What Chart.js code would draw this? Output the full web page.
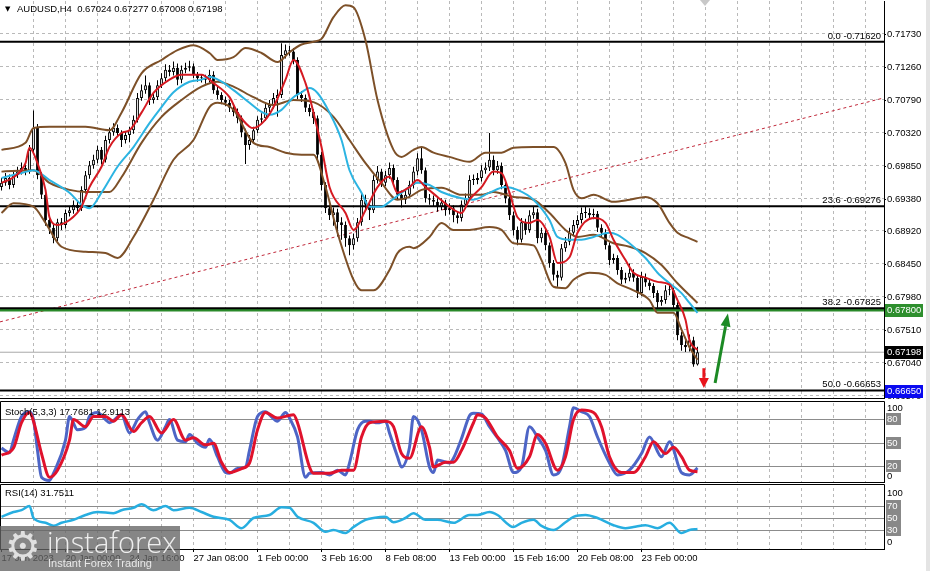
<!DOCTYPE html>
<html><head><meta charset="utf-8">
<script src="https://cdn.jsdelivr.net/npm/chart.js@4.4.0/dist/chart.umd.min.js"></script>
<style>
html,body{margin:0;padding:0;background:#fff;width:930px;height:571px;overflow:hidden;}
#wrap{position:relative;width:930px;height:571px;background:#fff;}
.pane{position:absolute;left:0;}
#wm{position:absolute;left:0;top:526px;width:180px;height:45px;background:rgba(100,100,100,0.78);overflow:hidden;}
#wm .g{position:absolute;left:5px;top:-3px;font:40px 'DejaVu Sans';color:#e0e0e0;}
#wm .t{position:absolute;left:47px;top:-4px;font:300 29px 'Open Sans';color:#eeeeee;}
#wm .s{position:absolute;left:48px;top:31px;font:11px 'Liberation Sans';color:#e8e8e8;}
#edge{position:absolute;left:926px;top:0;width:4px;height:571px;background:#e4e4e4;}
</style></head><body>
<div id="wrap">
<canvas class="pane" id="cMain" width="930" height="400" style="top:0"></canvas>
<canvas class="pane" id="cSto" width="930" height="84" style="top:400px"></canvas>
<canvas class="pane" id="cRsi" width="930" height="88" style="top:483px"></canvas>
<div id="wm"><span class="g">⚙</span><span class="t">instaforex</span><span class="s">Instant Forex Trading</span></div>
<div id="edge"></div>
</div>
<script>
// ---------------- DATA ----------------
const O = [0.6955,0.6961,0.6968,0.6958,0.6972,0.6977,0.6982,0.6977,0.7008,0.7039,0.6972,0.6944,0.6908,0.6897,0.6882,0.6905,0.6901,0.6918,0.6922,0.6930,
0.6925,0.6951,0.6972,0.6986,0.6994,0.7008,0.6994,0.7022,0.7033,0.7039,0.7032,0.7022,0.7029,0.7036,0.7051,0.7082,0.7093,0.7100,0.7079,0.7083,
0.7100,0.7110,0.7122,0.7119,0.7125,0.7108,0.7122,0.7125,0.7127,0.7115,0.7110,0.7110,0.7108,0.7115,0.7093,0.7086,0.7079,0.7075,0.7068,0.7062,
0.7053,0.7033,0.7015,0.7022,0.7036,0.7051,0.7053,0.7068,0.7072,0.7082,0.7086,0.7143,0.7150,0.7148,0.7136,0.7086,0.7082,0.7068,0.7062,0.7053,
0.7001,0.6958,0.6925,0.6915,0.6919,0.6905,0.6901,0.6882,0.6872,0.6882,0.6905,0.6937,0.6930,0.6922,0.6965,0.6977,0.6961,0.6972,0.6982,0.6965,
0.6944,0.6937,0.6944,0.6958,0.6977,0.6996,0.6979,0.6939,0.6937,0.6934,0.6927,0.6933,0.6922,0.6925,0.6915,0.6911,0.6930,0.6939,0.6965,0.6965,
0.6968,0.6979,0.6983,0.6994,0.6979,0.6985,0.6958,0.6939,0.6915,0.6894,0.6880,0.6905,0.6894,0.6915,0.6919,0.6882,0.6890,0.6872,0.6847,0.6830,
0.6826,0.6868,0.6877,0.6890,0.6901,0.6908,0.6918,0.6918,0.6915,0.6917,0.6897,0.6890,0.6872,0.6851,0.6854,0.6837,0.6823,0.6826,0.6833,0.6826,
0.6804,0.6827,0.6819,0.6814,0.6804,0.6791,0.6794,0.6808,0.6808,0.6787,0.6744,0.6730,0.6727,0.6737,0.67024];
const H = [0.6968,0.6975,0.6973,0.6978,0.6984,0.6990,0.6987,0.7015,0.7064,0.7045,0.6976,0.6948,0.6914,0.6902,0.6910,0.6911,0.6923,0.6928,0.6936,0.6935,
0.6956,0.6978,0.6992,0.7001,0.7014,0.7012,0.7028,0.7040,0.7046,0.7044,0.7036,0.7034,0.7041,0.7057,0.7089,0.7101,0.7114,0.7104,0.7090,0.7107,
0.7117,0.7130,0.7129,0.7134,0.7131,0.7128,0.7132,0.7135,0.7131,0.7119,0.7116,0.7115,0.7122,0.7120,0.7098,0.7090,0.7084,0.7079,0.7072,0.7067,
0.7057,0.7038,0.7029,0.7041,0.7056,0.7060,0.7074,0.7079,0.7089,0.7094,0.7160,0.7158,0.7156,0.7153,0.7140,0.7092,0.7087,0.7073,0.7066,0.7057,
0.7005,0.6962,0.6930,0.6926,0.6924,0.6912,0.6906,0.6886,0.6889,0.6911,0.6948,0.6944,0.6935,0.6972,0.6985,0.6981,0.6978,0.6990,0.6987,0.6969,
0.6950,0.6950,0.6964,0.6984,0.7003,0.7012,0.6983,0.6945,0.6943,0.6939,0.6939,0.6937,0.6932,0.6929,0.6920,0.6936,0.6946,0.6972,0.6973,0.6975,
0.6986,0.6990,0.7032,0.7000,0.6992,0.6990,0.6963,0.6943,0.6920,0.6899,0.6911,0.6910,0.6922,0.6928,0.6924,0.6897,0.6895,0.6876,0.6851,0.6836,
0.6874,0.6884,0.6897,0.6908,0.6915,0.6926,0.6927,0.6925,0.6924,0.6921,0.6902,0.6895,0.6876,0.6860,0.6858,0.6841,0.6833,0.6846,0.6838,0.6830,
0.6834,0.6832,0.6823,0.6818,0.6808,0.6800,0.6815,0.6816,0.6812,0.6791,0.6749,0.6737,0.6745,0.6742,0.67277];
const L = [0.6950,0.6957,0.6952,0.6954,0.6968,0.6973,0.6972,0.6974,0.7004,0.6966,0.6938,0.6900,0.6888,0.6875,0.6878,0.6894,0.6896,0.6913,0.6917,0.6919,
0.6921,0.6946,0.6967,0.6981,0.6989,0.6987,0.6990,0.7017,0.7028,0.7027,0.7012,0.7017,0.7019,0.7031,0.7047,0.7078,0.7088,0.7072,0.7074,0.7079,
0.7096,0.7106,0.7113,0.7114,0.7100,0.7103,0.7117,0.7120,0.7110,0.7105,0.7104,0.7102,0.7104,0.7088,0.7080,0.7073,0.7070,0.7062,0.7056,0.7046,
0.7026,0.6988,0.7008,0.7018,0.7032,0.7046,0.7049,0.7062,0.7067,0.7055,0.7082,0.7138,0.7142,0.7130,0.7080,0.7076,0.7062,0.7056,0.7045,0.6994,
0.6950,0.6918,0.6908,0.6900,0.6885,0.6880,0.6870,0.6858,0.6866,0.6877,0.6900,0.6922,0.6908,0.6918,0.6960,0.6955,0.6956,0.6967,0.6960,0.6937,
0.6926,0.6931,0.6940,0.6953,0.6972,0.6974,0.6933,0.6930,0.6928,0.6920,0.6922,0.6914,0.6916,0.6905,0.6903,0.6906,0.6925,0.6935,0.6958,0.6959,
0.6963,0.6974,0.6978,0.6972,0.6974,0.6952,0.6932,0.6908,0.6886,0.6872,0.6876,0.6887,0.6890,0.6910,0.6875,0.6876,0.6865,0.6840,0.6822,0.6813,
0.6822,0.6863,0.6872,0.6885,0.6896,0.6903,0.6911,0.6909,0.6909,0.6891,0.6884,0.6866,0.6844,0.6846,0.6830,0.6817,0.6818,0.6821,0.6820,0.6797,
0.6800,0.6813,0.6808,0.6797,0.6783,0.6786,0.6789,0.6801,0.6780,0.6737,0.6722,0.6720,0.6721,0.6699,0.67008];
const C = [0.6961,0.6968,0.6958,0.6972,0.6977,0.6982,0.6977,0.7008,0.7039,0.6972,0.6944,0.6908,0.6897,0.6882,0.6905,0.6901,0.6918,0.6922,0.6930,0.6925,
0.6951,0.6972,0.6986,0.6994,0.7008,0.6994,0.7022,0.7033,0.7039,0.7032,0.7022,0.7029,0.7036,0.7051,0.7082,0.7093,0.7100,0.7079,0.7083,0.7100,
0.7110,0.7122,0.7119,0.7125,0.7108,0.7122,0.7125,0.7127,0.7115,0.7110,0.7110,0.7108,0.7115,0.7093,0.7086,0.7079,0.7075,0.7068,0.7062,0.7053,
0.7033,0.7015,0.7022,0.7036,0.7051,0.7053,0.7068,0.7072,0.7082,0.7086,0.7143,0.7150,0.7148,0.7136,0.7086,0.7082,0.7068,0.7062,0.7053,0.7001,
0.6958,0.6925,0.6915,0.6919,0.6905,0.6901,0.6882,0.6872,0.6882,0.6905,0.6937,0.6930,0.6922,0.6965,0.6977,0.6961,0.6972,0.6982,0.6965,0.6944,
0.6937,0.6944,0.6958,0.6977,0.6996,0.6979,0.6939,0.6937,0.6934,0.6927,0.6933,0.6922,0.6925,0.6915,0.6911,0.6930,0.6939,0.6965,0.6965,0.6968,
0.6979,0.6983,0.6994,0.6979,0.6985,0.6958,0.6939,0.6915,0.6894,0.6880,0.6905,0.6894,0.6915,0.6919,0.6882,0.6890,0.6872,0.6847,0.6830,0.6826,
0.6868,0.6877,0.6890,0.6901,0.6908,0.6918,0.6918,0.6915,0.6917,0.6897,0.6890,0.6872,0.6851,0.6854,0.6837,0.6823,0.6826,0.6833,0.6826,0.6804,
0.6827,0.6819,0.6814,0.6804,0.6791,0.6794,0.6808,0.6808,0.6787,0.6744,0.6730,0.6727,0.6737,0.67024,0.67198];

// Bollinger Bands (bar index, price)
const bbUpper = [[0,0.7008],[6,0.7018],[8,0.7039],[12,0.7041],[21,0.7041],[27,0.7036],[30,0.7061],[35,0.7117],[40,0.7136],[44,0.7150],[48,0.7157],[52,0.7146],[54,0.7136],[58,0.7140],[61,0.7153],[65,0.7146],[69,0.7133],[72,0.7147],[75,0.7158],[78,0.7162],[80,0.7166],[83,0.7197],[86,0.7214],[88,0.7211],[91,0.7164],[94,0.7079],[98,0.7008],[100,0.6998],[103,0.7008],[105,0.7012],[108,0.7004],[112,0.6998],[117,0.6991],[121,0.7004],[125,0.7004],[128,0.7011],[133,0.7012],[138,0.7012],[141,0.6989],[143,0.6951],[145,0.6939],[148,0.6944],[153,0.6934],[157,0.6937],[161,0.6941],[164,0.6932],[167,0.6904],[169,0.6890],[172,0.6882],[174,0.6877]];
const bbMiddle = [[0,0.6977],[8,0.6979],[12,0.6961],[17,0.6951],[21,0.6948],[27,0.6948],[30,0.6969],[35,0.7018],[40,0.7055],[45,0.7079],[50,0.7098],[54,0.7105],[58,0.7098],[63,0.7083],[68,0.7072],[73,0.7079],[78,0.7076],[83,0.7055],[87,0.7022],[91,0.6989],[95,0.6961],[99,0.6937],[102,0.6941],[105,0.6951],[110,0.6954],[115,0.6944],[120,0.6944],[123,0.6948],[128,0.6941],[133,0.6937],[137,0.6918],[141,0.6894],[144,0.6884],[148,0.6887],[153,0.6875],[157,0.6870],[161,0.6861],[165,0.6844],[169,0.6818],[174,0.6790]];
const bbLower = [[0,0.6918],[3,0.6932],[8,0.6927],[11,0.6904],[15,0.6870],[21,0.6863],[26,0.6861],[29,0.6854],[33,0.6884],[38,0.6937],[43,0.6994],[48,0.7022],[52,0.7069],[54,0.7075],[58,0.7065],[63,0.7018],[67,0.7012],[71,0.7004],[75,0.7001],[78,0.7001],[81,0.6955],[84,0.6890],[88,0.6823],[90,0.6808],[93,0.6808],[97,0.6837],[99,0.6861],[102,0.6870],[103,0.6868],[107,0.6884],[110,0.6904],[113,0.6894],[117,0.6894],[122,0.6898],[125,0.6894],[128,0.6875],[133,0.6872],[135,0.6851],[138,0.6813],[141,0.6811],[143,0.6823],[147,0.6833],[151,0.6830],[154,0.6818],[158,0.6808],[162,0.6794],[164,0.6776],[168,0.6776],[170,0.6752],[172,0.6727],[174,0.6709]];
// moving averages
const maSlow = [[0,0.6968],[5,0.6975],[8,0.6979],[12,0.6965],[17,0.6947],[20,0.6930],[22,0.6925],[25,0.6947],[29,0.6984],[33,0.7012],[37,0.7046],[40,0.7069],[43,0.7090],[47,0.7105],[50,0.7108],[52,0.7112],[55,0.7105],[58,0.7093],[62,0.7075],[65,0.7062],[67,0.7058],[70,0.7065],[73,0.7083],[75,0.7090],[77,0.7096],[79,0.7089],[82,0.7061],[85,0.7022],[87,0.6979],[90,0.6947],[92,0.6927],[95,0.6927],[97,0.6934],[101,0.6951],[104,0.6961],[107,0.6958],[110,0.6948],[115,0.6939],[118,0.6937],[122,0.6947],[126,0.6955],[129,0.6951],[133,0.6937],[137,0.6908],[139,0.6884],[142,0.6880],[145,0.6880],[148,0.6884],[152,0.6890],[154,0.6887],[157,0.6875],[161,0.6854],[164,0.6833],[167,0.6818],[170,0.6804],[172,0.6790],[174,0.6776]];
const maFast = [[0,0.6961],[3,0.6969],[6,0.6989],[7,0.7011],[9,0.6989],[11,0.6951],[12,0.6912],[14,0.6901],[17,0.6908],[20,0.6927],[22,0.6955],[25,0.6984],[27,0.7012],[30,0.7032],[32,0.7036],[35,0.7061],[38,0.7089],[42,0.7108],[45,0.7115],[50,0.7115],[53,0.7103],[57,0.7083],[59,0.7061],[62,0.7041],[63,0.7039],[66,0.7051],[68,0.7069],[71,0.7108],[73,0.7136],[76,0.7103],[78,0.7061],[80,0.7012],[82,0.6955],[86,0.6918],[88,0.6894],[91,0.6922],[94,0.6955],[97,0.6970],[99,0.6947],[102,0.6955],[104,0.6965],[106,0.6955],[109,0.6941],[112,0.6927],[115,0.6918],[117,0.6937],[120,0.6955],[123,0.6977],[125,0.6975],[127,0.6947],[129,0.6912],[132,0.6904],[134,0.6908],[137,0.6884],[139,0.6847],[142,0.6855],[144,0.6890],[148,0.6911],[151,0.6904],[153,0.6880],[156,0.6851],[158,0.6833],[161,0.6826],[164,0.6820],[167,0.6816],[169,0.6794],[171,0.6766],[172,0.6737],[174,0.6723]];
// drawn objects
const trendLine = [[-0.375,0.6763],[220.625,0.7082]];
const fibLevels = [0.71620,0.69276,0.67825,0.66653];
const fibNames = ['0.0','23.6','38.2','50.0'];
const greenLevel = 0.67800;
const bidPrice = 0.67198;
const tagValues = [0.67800,0.67198,0.66650];
const arrowsDown = [[175.6,0.6697,175.6,0.6669]];
const arrowsUp = [[178.4,0.6676,181.6,0.6775]];
// stochastic (5,3,3)
const stochK = [[0,43],[2,37],[3,53],[5,83],[7,89],[8,79],[9,40],[10,6],[12,2],[13,11],[16,53],[17,83],[19,66],[21,69],[22,83],[24,88],[26,79],[27,75],[30,85],[32,62],[34,79],[36,89],[37,75],[39,53],[41,70],[42,79],[44,53],[46,51],[47,60],[49,49],[51,44],[52,54],[54,32],[56,12],[57,11],[59,17],[61,19],[62,40],[64,83],[66,89],[67,85],[69,77],[71,88],[72,81],[74,57],[76,6],[77,11],[80,12],[82,9],[84,15],[86,9],[87,24],[89,66],[91,77],[92,77],[94,75],[96,77],[97,62],[99,32],[100,19],[102,44],[103,83],[105,66],[107,19],[108,12],[109,28],[112,24],[113,30],[115,55],[117,84],[118,87],[120,86],[122,70],[124,56],[126,40],[128,12],[130,19],[132,70],[134,57],[136,40],[138,9],[140,19],[142,70],[143,94],[145,89],[147,83],[149,57],[152,24],[154,9],[157,15],[160,36],[162,57],[165,32],[167,51],[170,12],[172,9],[174,17.7681]];
const stochD = [[0,34],[3,43],[5,75],[7,88],[8,77],[10,36],[12,6],[14,15],[17,53],[18,79],[21,70],[23,83],[26,83],[28,77],[30,85],[33,64],[35,75],[37,83],[40,62],[43,79],[46,53],[48,56],[51,47],[53,49],[55,25],[57,12],[60,17],[62,24],[64,66],[66,88],[69,81],[73,85],[74,75],[77,19],[78,11],[82,11],[85,15],[88,15],[90,57],[92,75],[96,77],[98,70],[100,36],[102,30],[105,70],[107,44],[108,19],[111,25],[113,25],[115,40],[118,75],[119,85],[121,81],[124,57],[127,40],[129,17],[132,32],[134,60],[136,49],[139,15],[141,32],[143,79],[145,91],[148,88],[150,70],[152,32],[155,12],[158,12],[161,32],[163,51],[166,36],[168,44],[170,32],[172,15],[174,12.9113]];
// RSI(14)
const rsi = [[0,52],[3,60],[5,63],[7,70],[8,50],[11,42],[13,37],[15,42],[18,47],[21,55],[24,60],[28,58],[30,63],[33,67],[35,73],[38,63],[41,70],[43,63],[47,67],[50,60],[53,52],[57,47],[60,33],[63,50],[67,55],[70,68],[72,67],[74,52],[78,42],[81,27],[83,30],[86,25],[88,35],[91,47],[93,50],[96,52],[98,43],[101,50],[103,58],[106,47],[109,47],[113,42],[117,55],[119,55],[122,60],[124,55],[128,35],[130,42],[133,47],[135,37],[138,30],[141,43],[143,52],[146,55],[149,50],[153,38],[156,33],[158,35],[161,38],[164,33],[167,42],[170,25],[172,30],[174,31.7511]];
// axes
const priceTicks = [0.71730,0.71260,0.70790,0.70320,0.69850,0.69380,0.68920,0.68450,0.67980,0.67510,0.67040,0.66570];
const timeTickBars = [0,16,32,48,64,80,96,112,128,144,160];
const timeTickLabels = ['17 Jan 2023','20 Jan 00:00','24 Jan 16:00','27 Jan 08:00','1 Feb 00:00','3 Feb 16:00','8 Feb 08:00','13 Feb 00:00','15 Feb 16:00','20 Feb 08:00','23 Feb 00:00'];
const stochLevels = [80,50,20];
const rsiLevels = [70,50,30];
const headerText = 'AUDUSD,H4  0.67024 0.67277 0.67008 0.67198';
const stochTitle = 'Stoch(5,3,3) 17.7681 12.9113';
const rsiTitle = 'RSI(14) 31.7511';

// ---------------- STYLE / LAYOUT ----------------
const FONT = "'Liberation Sans', Arial, sans-serif";
const FS = 9.5;
const X_MIN = -0.375, X_MAX = 220.625;
const GRID = '#b9b9b9';
const BROWN = '#7d5028', RED = '#d51a22', CYAN = '#2cb4e2';
const xScale = {type:'linear', min:X_MIN, max:X_MAX, display:false, offset:false, grid:{offset:false}};
const pts = a => a.map(p => ({x:p[0], y:p[1]}));
const lineDs = (arr, color, w, order, extra) => Object.assign({type:'line', data:pts(arr), borderColor:color, borderWidth:w, pointRadius:0, fill:false, order, cubicInterpolationMode:'monotone'}, extra||{});

function vGrid(chart){
  const {ctx, chartArea:a, scales:{x}} = chart;
  ctx.save(); ctx.strokeStyle = GRID; ctx.lineWidth = 1; ctx.setLineDash([3,3]);
  ctx.beginPath();
  for (let b = 0; b <= X_MAX; b += 8){ const px = Math.floor(x.getPixelForValue(b)) + 0.5; if (px < 2) continue; ctx.moveTo(px, a.top); ctx.lineTo(px, a.bottom); }
  ctx.stroke(); ctx.restore();
}
function arrow(ctx,x1,y1,x2,y2,color,w,hl,hw){
  const ang = Math.atan2(y2-y1,x2-x1), c = Math.cos(ang), s = Math.sin(ang);
  const bx = x2 - hl*c, by = y2 - hl*s;
  ctx.save(); ctx.strokeStyle = color; ctx.fillStyle = color; ctx.lineWidth = w; ctx.lineCap = 'butt';
  ctx.beginPath(); ctx.moveTo(x1,y1); ctx.lineTo(bx,by); ctx.stroke();
  ctx.beginPath(); ctx.moveTo(x2,y2); ctx.lineTo(bx + hw/2*s, by - hw/2*c); ctx.lineTo(bx - hw/2*s, by + hw/2*c); ctx.closePath(); ctx.fill();
  ctx.restore();
}

// ---------------- MAIN ----------------
const bars = C.map((_, i) => i);
const mainPlugin = {
  id:'mainDeco',
  beforeDatasetsDraw(chart){
    const {ctx, chartArea:a, scales:{y}} = chart;
    ctx.save(); ctx.strokeStyle = GRID; ctx.lineWidth = 1; ctx.setLineDash([3,3]); ctx.beginPath();
    for (const v of priceTicks){ const py = Math.round(y.getPixelForValue(v)) - 0.5; if (py < a.top || py > a.bottom) continue; ctx.moveTo(a.left, py); ctx.lineTo(a.right, py); }
    ctx.stroke(); ctx.restore();
    vGrid(chart);
  },
  afterDraw(chart){
    const {ctx, chartArea:a, scales:{x,y}} = chart;
    ctx.save();
    ctx.strokeStyle = '#000'; ctx.lineWidth = 1; ctx.beginPath(); ctx.moveTo(0, a.bottom + 0.5); ctx.lineTo(a.right + 1, a.bottom + 0.5); ctx.stroke();
    ctx.fillStyle = '#000'; ctx.textBaseline = 'middle'; ctx.textAlign = 'left';
    ctx.font = `7px 'DejaVu Sans'`; ctx.fillText('▼', 5, 9);
    ctx.font = `${FS}px ${FONT}`; ctx.fillText(headerText, 17, 9);
    ctx.textAlign = 'right'; ctx.textBaseline = 'alphabetic';
    fibLevels.forEach((v, i) => { ctx.fillText(fibNames[i] + ' -' + v.toFixed(5), a.right - 3, y.getPixelForValue(v) - 3); });
    const tagBg = ['#2e8f2e', '#000000', '#0a0af0'];
    ctx.textAlign = 'left'; ctx.textBaseline = 'middle';
    tagValues.forEach((v, i) => {
      const py = Math.round(y.getPixelForValue(v));
      ctx.fillStyle = tagBg[i]; ctx.fillRect(a.right + 1, py - 6, 38, 13);
      ctx.fillStyle = '#fff'; ctx.fillText(v.toFixed(5), a.right + 3, py + 0.5);
    });
    arrowsDown.forEach(r => arrow(ctx, x.getPixelForValue(r[0]), y.getPixelForValue(r[1]), x.getPixelForValue(r[2]), y.getPixelForValue(r[3]), '#e8141c', 3, 10, 10));
    arrowsUp.forEach(r => arrow(ctx, x.getPixelForValue(r[0]), y.getPixelForValue(r[1]), x.getPixelForValue(r[2]), y.getPixelForValue(r[3]), '#1c8a24', 3, 13, 10));
    ctx.fillStyle = '#c8c8c8'; ctx.beginPath(); ctx.moveTo(700, 0); ctx.lineTo(710, 0); ctx.lineTo(705, 6); ctx.closePath(); ctx.fill();
    ctx.restore();
  }
};
const mainDatasets = [
  lineDs(maFast, RED, 2, 1),
  lineDs(maSlow, CYAN, 2, 2),
  lineDs(bbUpper, BROWN, 2, 3),
  lineDs(bbMiddle, BROWN, 2, 3),
  lineDs(bbLower, BROWN, 2, 3),
  {type:'bar', data:bars.map(i => ({x:i, y:[O[i], C[i]]})), backgroundColor:bars.map(i => C[i] >= O[i] ? '#ffffff' : '#000000'), borderColor:'#000', borderWidth:1, borderSkipped:false, grouped:false, maxBarThickness:3, minBarLength:1, order:5},
  {type:'bar', data:bars.map(i => ({x:i, y:[L[i], H[i]]})), backgroundColor:'#000', borderWidth:0, grouped:false, maxBarThickness:1, order:6},
  ...fibLevels.map(v => lineDs([[X_MIN, v],[X_MAX, v]], '#000', 2, 4, {cubicInterpolationMode:'default', tension:0})),
  lineDs([[X_MIN, greenLevel],[X_MAX, greenLevel]], '#2a8a2a', 3, 4, {tension:0, cubicInterpolationMode:'default'}),
  lineDs([[X_MIN, bidPrice],[X_MAX, bidPrice]], '#a8a8a8', 1, 8, {tension:0, cubicInterpolationMode:'default'}),
  lineDs(trendLine, '#c0283a', 1, 9, {borderDash:[3,3], tension:0, cubicInterpolationMode:'default'})
];
new Chart(document.getElementById('cMain'), {
  type:'bar',
  data:{datasets:mainDatasets},
  options:{
    responsive:false, animation:false, events:[],
    layout:{padding:{top:1, bottom:2, left:0, right:0}},
    plugins:{legend:{display:false}, tooltip:{enabled:false}},
    scales:{
      x:xScale,
      y:{position:'right', min:0.66546, max:0.72200,
         afterFit(s){ s.width = 46; s.paddingTop = 0; s.paddingBottom = 0; },
         afterBuildTicks(s){ s.ticks = priceTicks.map(v => ({value:v})); },
         ticks:{callback:v => Number(v).toFixed(5), font:{size:FS, family:FONT}, color:'#000', padding:1, autoSkip:false},
         grid:{drawOnChartArea:false, drawTicks:true, tickLength:2, color:'#000'},
         border:{display:true, color:'#000', width:1}}
    }
  },
  plugins:[mainPlugin]
});

// ---------------- SUB WINDOWS ----------------
function subPlugin(title, levels, lay){
  return {
    id:'sub' + title.length,
    beforeDatasetsDraw(chart){
      const {ctx, chartArea:a, scales:{y}} = chart;
      vGrid(chart);
      ctx.save(); ctx.strokeStyle = '#8c8c8c'; ctx.lineWidth = 1; ctx.beginPath();
      levels.forEach(v => { const py = Math.round(y.getPixelForValue(v)) + 0.5; ctx.moveTo(a.left, py); ctx.lineTo(a.right, py); });
      ctx.stroke(); ctx.restore();
    },
    afterDraw(chart){
      const {ctx, chartArea:a, scales:{y}} = chart;
      ctx.save();
      ctx.strokeStyle = '#000'; ctx.lineWidth = 1;
      ctx.beginPath();
      ctx.moveTo(0.5, lay.frameTop); ctx.lineTo(a.right + 0.5, lay.frameTop);
      ctx.moveTo(a.right + 0.5, lay.frameTop); ctx.lineTo(a.right + 0.5, lay.frameBottom);
      ctx.moveTo(0.5, lay.frameTop); ctx.lineTo(0.5, lay.frameBottom);
      ctx.moveTo(0, lay.frameBottom); ctx.lineTo(a.right + 1, lay.frameBottom);
      ctx.stroke();
      ctx.font = `${FS}px ${FONT}`; ctx.textBaseline = 'middle'; ctx.textAlign = 'left'; ctx.fillStyle = '#000';
      ctx.fillText(title, 5, lay.title);
      ctx.fillText('100', a.right + 3, y.getPixelForValue(100) + 5);
      ctx.fillText('0', a.right + 3, y.getPixelForValue(0) - 6);
      levels.forEach(v => {
        const py = Math.round(y.getPixelForValue(v));
        ctx.fillStyle = '#888'; ctx.fillRect(a.right + 2, py - 6, 15, 12);
        ctx.fillStyle = '#fff'; ctx.fillText(String(v), a.right + 3, py + 0.5);
      });
      ctx.restore();
    }
  };
}
new Chart(document.getElementById('cSto'), {
  type:'line',
  data:{datasets:[
    lineDs(stochD, '#e0122c', 3, 1),
    lineDs(stochK, '#4d65c6', 3, 2)
  ]},
  options:{
    responsive:false, animation:false, events:[],
    layout:{padding:{top:3, bottom:2, left:0, right:46}},
    plugins:{legend:{display:false}, tooltip:{enabled:false}},
    scales:{ x:xScale, y:{min:0, max:100, display:false} }
  },
  plugins:[subPlugin(stochTitle, stochLevels, {frameTop:1.5, frameBottom:82.5, title:12})]
});
new Chart(document.getElementById('cRsi'), {
  type:'line',
  data:{datasets:[ lineDs(rsi, '#27aee0', 2.5, 1) ]},
  options:{
    responsive:false, animation:false, events:[],
    layout:{padding:{top:5, bottom:0, left:0, right:46}},
    plugins:{legend:{display:false}, tooltip:{enabled:false}},
    scales:{
      x:{type:'linear', min:X_MIN, max:X_MAX, offset:false, position:'bottom',
         afterFit(s){ s.height = 22; s.paddingLeft = 0; s.paddingRight = 0; },
         afterBuildTicks(s){ s.ticks = timeTickBars.map(v => ({value:v})); },
         ticks:{callback:(v, i) => timeTickLabels[i], align:'start', autoSkip:false, maxRotation:0, font:{size:FS, family:FONT}, color:'#000', padding:1},
         grid:{drawOnChartArea:false, drawTicks:true, tickLength:3, color:'#000', offset:false},
         border:{display:true, color:'#000'}},
      y:{min:-1.67, max:100, display:false}
    }
  },
  plugins:[subPlugin(rsiTitle, rsiLevels, {frameTop:1.5, frameBottom:66.5, title:10})]
});
</script>
</body></html>
